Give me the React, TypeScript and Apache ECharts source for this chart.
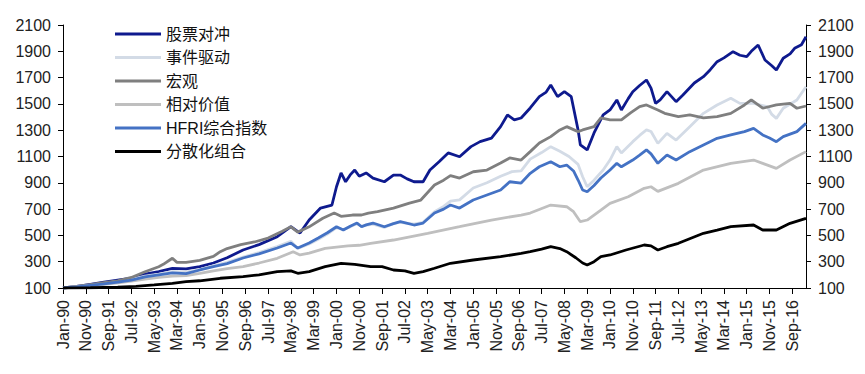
import React, { useEffect, useRef } from "react";
import * as echarts from "echarts";

const monthNames = ["Jan", "Feb", "Mar", "Apr", "May", "Jun", "Jul", "Aug", "Sep", "Oct", "Nov", "Dec"];
const startYear = 1990;
const monthCount = 327; // Jan-90 .. Mar-17

const categories: string[] = [];
for (let i = 0; i < monthCount; i++) {
  const y = startYear + Math.floor(i / 12);
  categories.push(`${monthNames[i % 12]}-${String(y % 100).padStart(2, "0")}`);
}

const seriesNames = ["股票对冲", "事件驱动", "宏观", "相对价值", "HFRI综合指数", "分散化组合"];

// [month index since Jan-90, index value]
const equityHedge: [number, number][] = [
  [0, 100], [6, 112], [12, 128], [18, 145], [24, 160], [30, 175], [36, 205], [42, 225], [48, 250], [54, 245],
  [60, 262], [66, 290], [72, 330], [79, 389], [86, 430], [94, 490], [100, 566], [104, 518], [108, 617], [113, 708],
  [118, 731], [120, 870], [122, 975], [124, 908], [126, 960], [128, 997], [130, 950], [133, 975], [136, 936], [141, 908],
  [145, 959], [148, 959], [151, 930], [154, 908], [158, 908], [161, 997], [165, 1060], [169, 1127], [174, 1098], [179, 1175],
  [183, 1213], [188, 1240], [192, 1327], [195, 1416], [198, 1378], [201, 1393], [205, 1469], [209, 1555], [212, 1590], [214, 1644],
  [217, 1555], [220, 1593], [223, 1555], [226, 1302], [227, 1188], [230, 1150], [233, 1279], [237, 1416], [240, 1454], [243, 1530],
  [245, 1454], [248, 1540], [250, 1593], [253, 1640], [256, 1682], [258, 1620], [260, 1504], [262, 1530], [265, 1593], [269, 1517],
  [272, 1568], [277, 1659], [281, 1707], [284, 1760], [287, 1821], [290, 1850], [294, 1897], [297, 1870], [300, 1859], [302, 1900],
  [305, 1948], [308, 1834], [311, 1790], [313, 1758], [316, 1847], [319, 1880], [321, 1923], [324, 1950], [326, 2011],
];

const eventDriven: [number, number][] = [
  [0, 100], [6, 110], [12, 122], [18, 135], [24, 150], [30, 165], [36, 190], [42, 205], [48, 225], [54, 220],
  [60, 240], [66, 268], [72, 295], [79, 335], [86, 370], [94, 415], [100, 455], [103, 400], [108, 435], [112, 470],
  [116, 510], [120, 560], [123, 545], [126, 565], [129, 590], [131, 570], [136, 585], [141, 560], [145, 590], [148, 600],
  [154, 585], [158, 600], [163, 680], [167, 720], [170, 760], [174, 770], [180, 860], [186, 900], [192, 950], [197, 985],
  [201, 990], [205, 1080], [210, 1130], [214, 1175], [218, 1140], [222, 1100], [226, 1040], [228, 946], [230, 870], [233, 920],
  [237, 997], [240, 1073], [243, 1175], [245, 1127], [250, 1213], [253, 1260], [256, 1302], [258, 1290], [261, 1200], [265, 1276],
  [269, 1225], [275, 1327], [281, 1428], [287, 1492], [293, 1543], [297, 1504], [303, 1504], [309, 1479], [311, 1420], [313, 1390],
  [316, 1467], [322, 1530], [326, 1631],
];

const macro: [number, number][] = [
  [0, 100], [6, 112], [12, 125], [18, 140], [24, 155], [30, 180], [36, 224], [42, 262], [44, 280], [47, 315],
  [48, 326], [50, 295], [54, 295], [60, 310], [66, 340], [69, 376], [72, 400], [78, 430], [84, 450], [90, 480],
  [96, 530], [100, 565], [103, 525], [108, 565], [114, 630], [119, 670], [122, 645], [127, 655], [131, 655], [134, 670],
  [138, 680], [145, 708], [152, 746], [157, 769], [163, 883], [167, 920], [170, 955], [174, 936], [180, 984], [186, 997],
  [192, 1050], [196, 1089], [201, 1073], [205, 1137], [209, 1203], [214, 1251], [218, 1302], [221, 1327], [226, 1289], [228, 1302],
  [233, 1327], [236, 1393], [240, 1378], [245, 1378], [249, 1431], [253, 1479], [256, 1492], [261, 1454], [264, 1428], [270, 1403],
  [275, 1416], [281, 1393], [287, 1403], [293, 1428], [299, 1492], [302, 1530], [307, 1467], [313, 1492], [319, 1504], [322, 1467],
  [326, 1484],
];

const relativeValue: [number, number][] = [
  [0, 100], [6, 108], [12, 118], [18, 128], [24, 140], [30, 152], [36, 168], [42, 180], [48, 190], [54, 195],
  [60, 212], [66, 230], [72, 248], [79, 262], [86, 290], [94, 326], [101, 376], [104, 351], [108, 365], [115, 402],
  [125, 420], [130, 425], [135, 440], [145, 465], [160, 516], [174, 566], [188, 617], [201, 655], [205, 670], [214, 731],
  [221, 718], [224, 680], [227, 604], [230, 617], [236, 693], [240, 744], [248, 794], [255, 858], [258, 870], [261, 835],
  [270, 896], [281, 997], [293, 1048], [303, 1073], [307, 1048], [313, 1010], [319, 1073], [326, 1137],
];

const hfriComposite: [number, number][] = [
  [0, 100], [6, 108], [12, 120], [18, 132], [24, 145], [30, 160], [36, 185], [42, 200], [48, 215], [54, 210],
  [60, 237], [66, 262], [72, 285], [79, 328], [86, 360], [94, 404], [100, 442], [103, 404], [108, 442], [112, 480],
  [116, 520], [120, 566], [123, 541], [126, 570], [129, 594], [131, 566], [133, 580], [136, 594], [141, 566], [145, 590],
  [148, 604], [154, 579], [158, 594], [163, 670], [167, 700], [170, 731], [174, 708], [180, 769], [186, 807], [192, 845],
  [196, 908], [201, 898], [205, 972], [209, 1022], [214, 1060], [218, 1022], [221, 1035], [224, 990], [226, 921], [228, 845],
  [230, 832], [233, 880], [236, 936], [240, 997], [243, 1048], [245, 1022], [250, 1073], [253, 1110], [256, 1150], [258, 1120],
  [261, 1048], [265, 1111], [269, 1073], [275, 1137], [281, 1188], [287, 1238], [293, 1264], [299, 1289], [303, 1314], [307, 1264],
  [310, 1240], [313, 1213], [316, 1251], [322, 1289], [326, 1352],
];

const diversified: [number, number][] = [
  [0, 100], [12, 102], [24, 106], [32, 112], [40, 123], [48, 135], [54, 148], [60, 155], [69, 174], [79, 186],
  [86, 200], [94, 224], [100, 230], [103, 212], [108, 225], [115, 262], [122, 288], [128, 280], [135, 262], [140, 262],
  [145, 237], [150, 230], [154, 212], [158, 224], [163, 250], [170, 288], [180, 313], [192, 338], [201, 364], [205, 376],
  [210, 395], [214, 414], [218, 400], [221, 376], [225, 330], [228, 290], [230, 275], [233, 300], [236, 338], [240, 351],
  [247, 389], [255, 427], [258, 420], [261, 389], [265, 414], [270, 440], [281, 516], [287, 540], [293, 566], [303, 579],
  [307, 541], [313, 541], [319, 592], [326, 630],
];

const seriesData = [equityHedge, eventDriven, macro, relativeValue, hfriComposite, diversified];
const seriesColors = ["#0e1a8e", "#d3dbe6", "#7f7f7f", "#bfbfbf", "#4472c4", "#000000"];

const FONT = "'Liberation Sans', Arial, 'Noto Sans CJK SC', sans-serif";

export default function App() {
  const ref = useRef<HTMLDivElement>(null);
  useEffect(() => {
    if (!ref.current) return;
    const chart = echarts.init(ref.current, undefined, { renderer: "svg" });
    const yAxisCommon = {
      type: "value" as const,
      min: 100,
      max: 2100,
      interval: 200,
      splitLine: { show: false },
      axisLine: { show: true, lineStyle: { color: "#000", width: 1 } },
      axisTick: { show: true, inside: false, length: 5, lineStyle: { color: "#000" } },
      axisLabel: {
        color: "#222",
        fontSize: 16,
        fontFamily: FONT,
        margin: 12,
        formatter: (v: number) => String(v),
      },
    };
    chart.setOption({
      animation: false,
      backgroundColor: "#fff",
      grid: { left: 63, right: 59, top: 25, bottom: 86, containLabel: false },
      legend: {
        orient: "vertical",
        left: 110,
        top: 21,
        icon: "rect",
        itemWidth: 46,
        itemHeight: 3,
        itemGap: 7.5,
        textStyle: { color: "#111", fontSize: 16, fontFamily: FONT },
        data: seriesNames,
      },
      xAxis: {
        type: "category",
        boundaryGap: false,
        data: categories,
        axisLine: { show: true, lineStyle: { color: "#000", width: 1 } },
        axisTick: { show: true, interval: 9, length: 6, lineStyle: { color: "#000" } },
        axisLabel: { interval: 9, rotate: 90, color: "#222", fontSize: 16, fontFamily: FONT, margin: 12 },
        splitLine: { show: false },
      },
      yAxis: [
        { ...yAxisCommon, position: "left" },
        { ...yAxisCommon, position: "right" },
      ],
      series: seriesNames.map((name, i) => ({
        name,
        type: "line",
        data: seriesData[i],
        showSymbol: false,
        symbol: "none",
        color: seriesColors[i],
        lineStyle: { width: 2.8, color: seriesColors[i] },
        yAxisIndex: 0,
      })),
    });
    return () => chart.dispose();
  }, []);
  return <div ref={ref} style={{ position: "fixed", left: 0, top: 0, width: 865, height: 374 }} />;
}
